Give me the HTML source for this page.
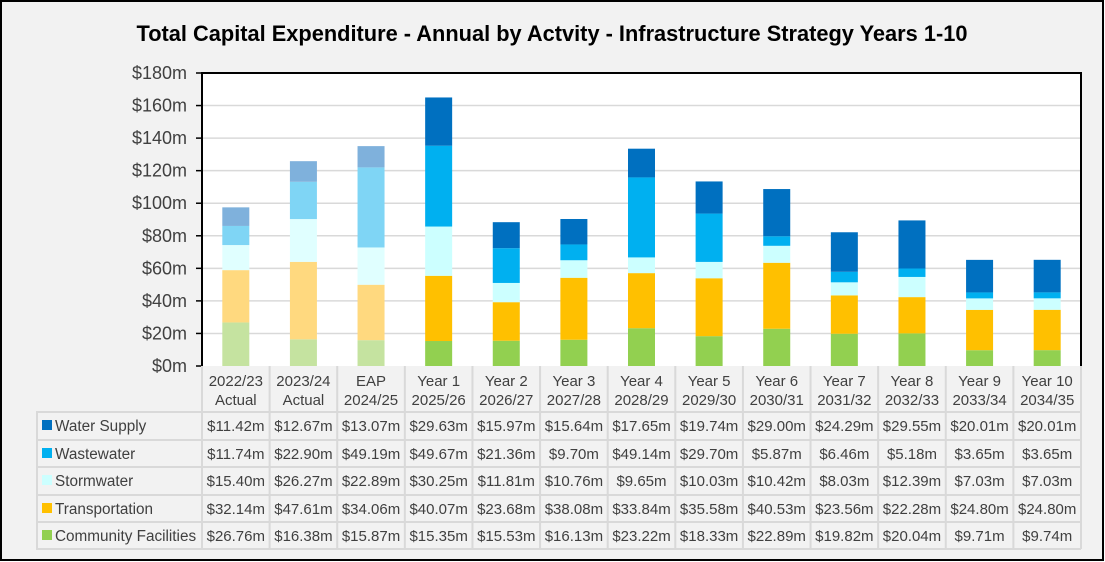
<!DOCTYPE html>
<html><head><meta charset="utf-8"><style>
body{margin:0;background:#fff}
svg{display:block;font-family:"Liberation Sans",Arial,sans-serif}
</style></head><body>
<svg id="c" width="1105" height="562">
<rect x="1" y="1" width="1102" height="559" fill="#f2f2f2" stroke="#000" stroke-width="2"/>
<text x="552" y="41" text-anchor="middle" font-size="21.8" font-weight="bold" fill="#000">Total Capital Expenditure - Annual by Actvity - Infrastructure Strategy Years 1-10</text>
<rect x="202" y="73" width="879" height="293" fill="#fff"/>
<g id="grid"></g><g id="bars"></g><g id="yax"></g><g id="tbl"></g>
</svg>
<script>
const categories1=["2022/23","2023/24","EAP","Year 1","Year 2","Year 3","Year 4","Year 5","Year 6","Year 7","Year 8","Year 9","Year 10"];
const categories2=["Actual","Actual","2024/25","2025/26","2026/27","2027/28","2028/29","2029/30","2030/31","2031/32","2032/33","2033/34","2034/35"];
const seriesNames=["Water Supply","Wastewater","Stormwater","Transportation","Community Facilities"];
const waterSupply=[11.42,12.67,13.07,29.63,15.97,15.64,17.65,19.74,29.00,24.29,29.55,20.01,20.01];
const wastewater=[11.74,22.90,49.19,49.67,21.36,9.70,49.14,29.70,5.87,6.46,5.18,3.65,3.65];
const stormwater=[15.40,26.27,22.89,30.25,11.81,10.76,9.65,10.03,10.42,8.03,12.39,7.03,7.03];
const transportation=[32.14,47.61,34.06,40.07,23.68,38.08,33.84,35.58,40.53,23.56,22.28,24.80,24.80];
const community=[26.76,16.38,15.87,15.35,15.53,16.13,23.22,18.33,22.89,19.82,20.04,9.71,9.74];
const yTicks=[0,20,40,60,80,100,120,140,160,180];
const NS="http://www.w3.org/2000/svg";
const X0=202,PW=879,Y0=366,PH=293,YMAX=180,N=categories1.length,CW=PW/N;
const y=v=>Y0-v/YMAX*PH, cx=i=>X0+CW*(i+0.5);
function mk(t,a,p,txt){const e=document.createElementNS(NS,t);for(const k in a)e.setAttribute(k,a[k]);if(txt!==undefined)e.textContent=txt;p.appendChild(e);return e;}
const full=["#0070c0","#00b0f0","#ccffff","#ffc000","#92d050"];
const faded=["#7fb1dc","#7fd5f5","#e0ffff","#ffd97f","#c5e3a0"];
const grid=document.getElementById('grid'),bars=document.getElementById('bars'),yax=document.getElementById('yax'),tbl=document.getElementById('tbl');
yTicks.forEach(t=>{
 if(t>0){const g=mk('line',{x1:X0,x2:X0+PW,y1:y(t),y2:y(t),stroke:'#d9d9d9','stroke-width':1.5},grid);
 
 }
 const tk=mk('line',{x1:X0-6,x2:X0,y1:y(t),y2:y(t),stroke:'#000','stroke-width':1.5},yax);
 
 
 const l=mk('text',{x:X0-15,y:y(t)+6,'text-anchor':'end','font-size':18,fill:'#404040'},yax,'$'+t+'m');
 
 
});
const stack=[community,transportation,stormwater,wastewater,waterSupply];
const colIdx=[4,3,2,1,0];
for(let i=0;i<N;i++){let base=0;
 stack.forEach((s,k)=>{const v=s[i];const ci=colIdx[k];
  const r=mk('rect',{x:cx(i)-13.5,y:y(base+v),width:27,height:y(base)-y(base+v),fill:(i<3?faded:full)[ci]},bars);
  
  
  base+=v;});}
mk('path',{d:`M${X0} ${Y0}V73H${X0+PW}V${Y0}`,fill:'none',stroke:'#000','stroke-width':2},yax);
const rowsY=[412,440,467,495,522,549];
const tc='#d9d9d9';
mk('rect',{x:37,y:412,width:X0-37,height:137,fill:'none',stroke:tc,'stroke-width':2},tbl);
rowsY.forEach(ry=>mk('line',{x1:37,x2:X0+PW,y1:ry,y2:ry,stroke:tc,'stroke-width':2},tbl));
for(let i=0;i<=N;i++){const x=X0+CW*i;mk('line',{x1:x,x2:x,y1:Y0,y2:549,stroke:tc,'stroke-width':2},tbl);}
for(let i=0;i<N;i++){
 const h1=mk('text',{x:cx(i),y:386,'text-anchor':'middle','font-size':15,fill:'#404040'},tbl,categories1[i]);
 
 
 const h2=mk('text',{x:cx(i),y:405,'text-anchor':'middle','font-size':15,fill:'#404040'},tbl,categories2[i]);
 
 
}
const tableSeries=[waterSupply,wastewater,stormwater,transportation,community];
tableSeries.forEach((s,r)=>{const ty=rowsY[r]+19;
 const sw=mk('rect',{x:42,y:ty-11,width:10,height:10,fill:full[r]},tbl);
 
 
 const lt=mk('text',{x:55,y:ty,'font-size':15.3,fill:'#404040'},tbl,seriesNames[r]);
 
 
 s.forEach((v,i)=>{const t=mk('text',{x:cx(i),y:ty,'text-anchor':'middle','font-size':15,fill:'#404040'},tbl,'$'+v.toFixed(2)+'m');
  
  });
});
</script>
</body></html>
